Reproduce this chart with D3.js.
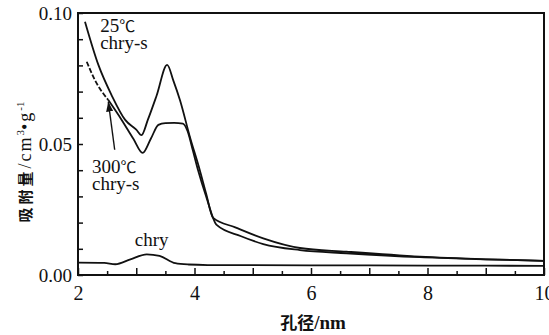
<!DOCTYPE html>
<html>
<head>
<meta charset="utf-8">
<script src="https://cdn.jsdelivr.net/npm/d3@7"></script>
<style>
  body { margin: 0; background: #fff; }
</style>
</head>
<body>
<svg id="chart" width="549" height="335"></svg>
<script>
// pore size (nm) vs adsorbed volume (cm3/g)
let xTicks = [2, 2.5, 3, 3.5, 4, 4.5, 5, 5.5, 6, 6.5, 7, 7.5, 8, 8.5, 9, 9.5, 10]
let xLabels = [2, 4, 6, 8, 10]
let yTicks = [0, 0.01, 0.02, 0.03, 0.04, 0.05, 0.06, 0.07, 0.08, 0.09, 0.1]
let yLabels = [0, 0.05, 0.1]

// 25℃ chry-s
let chrys25Size = [2.12, 2.35, 2.58, 2.81, 3.0, 3.09, 3.2, 3.35, 3.53, 3.64, 3.75, 3.92, 4.09, 4.2, 4.32, 4.7, 5.18, 5.81, 6.61, 7.87, 9.0, 10.0]
let chrys25Vol = [0.0967, 0.0802, 0.0685, 0.0592, 0.0555, 0.0534, 0.0593, 0.0685, 0.0802, 0.0740, 0.0668, 0.0528, 0.0401, 0.0310, 0.0218, 0.0182, 0.0140, 0.0103, 0.0089, 0.0070, 0.0060, 0.0054]

// 300℃ chry-s
let chrys300Size = [2.15, 2.29, 2.52, 2.75, 2.95, 3.11, 3.25, 3.38, 3.5, 3.65, 3.8, 3.88, 3.97, 4.06, 4.2, 4.38, 4.8, 5.18, 5.81, 6.61, 7.87, 9.0, 10.0]
let chrys300Vol = [0.0814, 0.0744, 0.0668, 0.0592, 0.0520, 0.0466, 0.0520, 0.0573, 0.0580, 0.0581, 0.0578, 0.0550, 0.0477, 0.0401, 0.0300, 0.0191, 0.0148, 0.0118, 0.0095, 0.0083, 0.0068, 0.0060, 0.0054]

// chry
let chrySize = [2.0, 2.45, 2.64, 2.9, 3.18, 3.4, 3.67, 3.9, 4.23, 6.0, 8.0, 10.0]
let chryVol = [0.0047, 0.0046, 0.0041, 0.0060, 0.0079, 0.0073, 0.0045, 0.0040, 0.0038, 0.0037, 0.0036, 0.0035]

let serif = "'Liberation Serif', 'Times New Roman', serif"
let cjk = "'Noto Sans CJK SC', sans-serif"

let svg = d3.select("#chart")
    .style("font-family", serif)

let margin = { top: 13, right: 5, bottom: 60, left: 78 }
let width = 549 - margin.left - margin.right
let height = 335 - margin.top - margin.bottom

let x = d3.scaleLinear().domain([2, 10]).range([margin.left, margin.left + width])
let y = d3.scaleLinear().domain([0, 0.1]).range([margin.top + height, margin.top])

let zip = (a, b) => a.map((v, i) => [v, b[i]])

let line = d3.line()
    .x(d => x(d[0]))
    .y(d => y(d[1]))
    .curve(d3.curveMonotoneX)

// axes
let gX = svg.append("g")
    .attr("transform", "translate(0," + y(0) + ")")
    .call(d3.axisBottom(x)
        .tickValues(xTicks)
        .tickSize(0)
        .tickPadding(11)
        .tickFormat(d => xLabels.includes(d) ? d : ""))
gX.attr("font-size", 20).attr("font-family", null)
gX.select(".domain").remove()
gX.selectAll("text").style("font-family", serif).attr("fill", "#111")
gX.selectAll(".tick line")
    .attr("y2", d => d % 1 ? -4 : -7)
    .attr("stroke", "#111")
    .attr("stroke-width", 1.5)

let gY = svg.append("g")
    .attr("transform", "translate(" + x(2) + ",0)")
    .call(d3.axisLeft(y)
        .tickValues(yTicks)
        .tickSize(-5)
        .tickPadding(6)
        .tickFormat(d => yLabels.includes(d) ? d3.format(".2f")(d) : ""))
gY.attr("font-size", 19).attr("font-family", null)
gY.select(".domain").remove()
gY.selectAll("text").style("font-family", serif).attr("fill", "#111")
gY.selectAll(".tick line")
    .attr("stroke", "#111")
    .attr("stroke-width", 1.5)

// frame
svg.append("rect")
    .attr("x", x(2))
    .attr("y", y(0.1))
    .attr("width", x(10) - x(2))
    .attr("height", y(0) - y(0.1))
    .attr("fill", "none")
    .attr("stroke", "#111")
    .attr("stroke-width", 2)

// curves
let curves = svg.append("g")
    .attr("fill", "none")
    .attr("stroke", "#111")
    .attr("stroke-width", 1.8)

curves.append("path").attr("d", line(zip(chrys25Size, chrys25Vol)))

let pts300 = zip(chrys300Size, chrys300Vol)
curves.append("path")
    .attr("d", line(pts300.filter(d => d[0] <= 2.52)))
    .attr("stroke-dasharray", "5,2")
curves.append("path").attr("d", line(pts300.filter(d => d[0] >= 2.52)))

curves.append("path").attr("d", line(zip(chrySize, chryVol)))

// arrow to the 300℃ curve
svg.append("defs").append("marker")
    .attr("id", "arrow")
    .attr("viewBox", "0 0 10 7")
    .attr("refX", 10)
    .attr("refY", 3.5)
    .attr("markerUnits", "userSpaceOnUse")
    .attr("markerWidth", 10)
    .attr("markerHeight", 7)
    .attr("orient", "auto")
  .append("path")
    .attr("d", "M0,0L10,3.5L0,7Z")
    .attr("fill", "#111")

svg.append("line")
    .attr("x1", x(2.63)).attr("y1", y(0.0478))
    .attr("x2", x(2.52)).attr("y2", y(0.0662))
    .attr("stroke", "#111")
    .attr("stroke-width", 1.4)
    .attr("marker-end", "url(#arrow)")

// annotations (℃ in a CJK face, like the print)
let notes = [
    { text: "25", unit: "℃", x: 2.38, y: 0.0927, anchor: "start" },
    { text: "chry-s", unit: "", x: 2.38, y: 0.0861, anchor: "start" },
    { text: "300", unit: "℃", x: 2.24, y: 0.0389, anchor: "start" },
    { text: "chry-s", unit: "", x: 2.24, y: 0.0326, anchor: "start" },
    { text: "chry", unit: "", x: 3.265, y: 0.0111, anchor: "middle" }
]
let noteText = svg.selectAll(".note")
    .data(notes)
    .enter().append("text")
        .attr("class", "note")
        .attr("x", d => x(d.x))
        .attr("y", d => y(d.y))
        .attr("text-anchor", d => d.anchor)
        .attr("font-size", 19)
        .attr("fill", "#111")
noteText.append("tspan").text(d => d.text)
noteText.append("tspan")
    .style("font-family", cjk)
    .attr("font-size", 16)
    .text(d => d.unit)

// axis titles
let xTitle = svg.append("text")
    .attr("x", 313)
    .attr("y", 329)
    .attr("text-anchor", "middle")
    .attr("font-size", 19)
    .attr("font-weight", "bold")
    .attr("fill", "#111")
xTitle.append("tspan").style("font-family", cjk).attr("font-size", 17).text("孔径")
xTitle.append("tspan").text("/nm")

let yTitle = svg.append("text")
    .attr("transform", "translate(31," + (margin.top + height / 2 + 18) + ") rotate(-90)")
    .attr("text-anchor", "middle")
    .attr("font-size", 18)
    .attr("fill", "#111")
yTitle.append("tspan").style("font-family", cjk).attr("font-weight", "bold").attr("font-size", 15)
    .attr("letter-spacing", 3).text("吸附量")
yTitle.append("tspan").attr("letter-spacing", 2).text("/cm")
yTitle.append("tspan").attr("dy", -7).attr("font-size", 11).text("3")
yTitle.append("tspan").attr("dy", 7).attr("letter-spacing", 2).text("•g")
yTitle.append("tspan").attr("dy", -7).attr("font-size", 11).text("-1")
</script>
</body>
</html>
